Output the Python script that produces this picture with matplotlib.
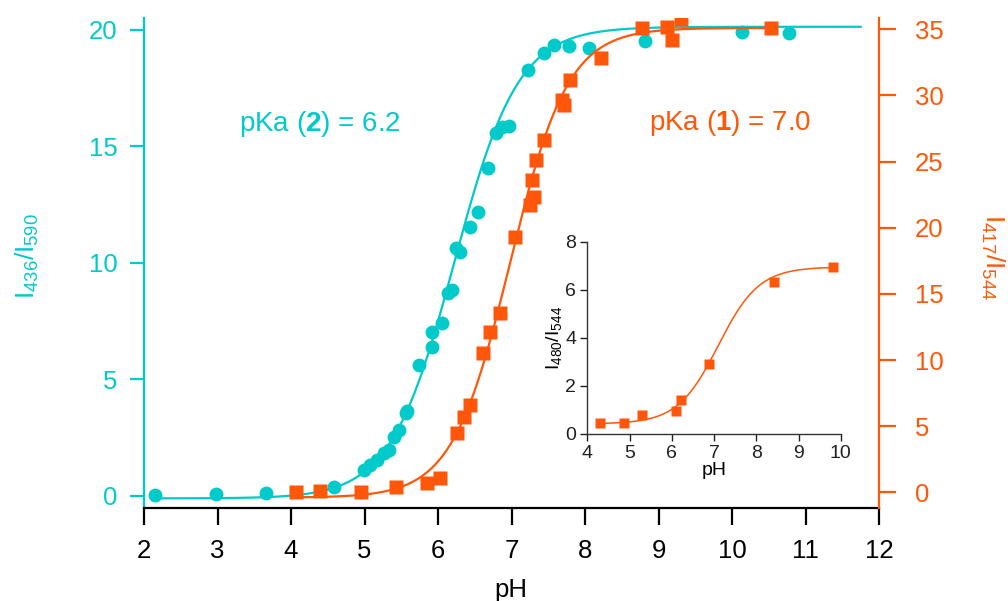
import numpy as np
import matplotlib
matplotlib.use('Agg')
import matplotlib.pyplot as plt

plt.rcParams['font.family'] = ['Liberation Sans', 'DejaVu Sans']
plt.rcParams['mathtext.fontset'] = 'custom'
plt.rcParams['mathtext.rm'] = 'Liberation Sans'
plt.rcParams['mathtext.it'] = 'Liberation Sans:italic'
plt.rcParams['mathtext.bf'] = 'Liberation Sans:bold'
plt.rcParams['mathtext.default'] = 'regular'

CYAN = '#00CACA'
ORANGE = '#FF570A'

# probe 2 (cyan circles, left axis)
ph2 = [2.15, 2.98, 3.66, 4.58, 4.99, 5.08, 5.17, 5.26, 5.33, 5.40, 5.47, 5.56, 5.58,
       5.74, 5.92, 5.92, 6.05, 6.13, 6.19, 6.25, 6.30, 6.44, 6.55, 6.68, 6.79, 6.87,
       6.96, 7.22, 7.44, 7.58, 7.78, 8.05, 8.81, 10.14, 10.78]
ratio2 = [0.03, 0.07, 0.10, 0.38, 1.10, 1.31, 1.53, 1.81, 1.96, 2.53, 2.80, 3.55, 3.65,
          5.60, 6.39, 7.03, 7.39, 8.68, 8.82, 10.61, 10.47, 11.54, 12.19, 14.05, 15.55,
          15.83, 15.86, 18.27, 18.98, 19.34, 19.30, 19.22, 19.53, 19.91, 19.84]

# probe 1 (orange squares, right axis)
ph1 = [4.07, 4.40, 4.95, 5.43, 5.85, 6.03, 6.26, 6.35, 6.44, 6.61, 6.71, 6.84, 7.05,
       7.25, 7.31, 7.28, 7.33, 7.44, 7.69, 7.71, 7.80, 8.22, 8.77, 9.12, 9.18, 9.31, 10.53]
ratio1 = [0.00, 0.10, 0.05, 0.42, 0.68, 1.06, 4.46, 5.71, 6.60, 10.55, 12.14, 13.58,
          19.32, 21.72, 22.35, 23.61, 25.12, 26.63, 29.65, 29.27, 31.16, 32.80, 35.07,
          35.15, 34.19, 35.80, 35.07]

# inset data
ph_in = [4.29, 4.87, 5.30, 6.10, 6.21, 6.87, 8.41, 9.81]
ratio_in = [0.44, 0.44, 0.79, 0.97, 1.42, 2.90, 6.34, 6.96]

# sigmoid fit parameters: (bottom, top, pKa, hill, ph range)
fit2 = (-0.12, 20.12, 6.22, 1.0, 2.15, 11.75)
fit1 = (-0.40, 35.10, 6.98, 1.1, 4.03, 10.55)
fit_in = (0.42, 6.95, 7.10, 0.9, 4.29, 9.81)


def fit_curve(p):
    bot, top, pka, n, x0, x1 = p
    x = np.linspace(x0, x1, 300)
    return x, bot + (top - bot) / (1 + 10 ** (n * (pka - x)))


fig = plt.figure(figsize=(10.08, 6.01), dpi=100)
ax = fig.add_axes([0.1429, 0.1542, 0.7292, 0.8154])
ax2 = ax.twinx()

x, y = fit_curve(fit2)
ax.plot(x, y, color=CYAN, lw=1.6, zorder=2)
ax.plot(ph2, ratio2, 'o', color=CYAN, ms=10, mec='none', zorder=3)

x, y = fit_curve(fit1)
ax2.plot(x, y, color=ORANGE, lw=1.6, zorder=2)
ax2.plot(ph1, ratio1, 's', color=ORANGE, ms=9.5, mec='none', zorder=3)

ax.set_xlim(2, 12)
ax.set_ylim(-0.545, 20.485)
ax2.set_ylim(-1.21, 35.83)
ax.set_xticks(range(2, 13))
ax.set_yticks([0, 5, 10, 15, 20])
ax2.set_yticks(range(0, 36, 5))

for s in ['top', 'right']:
    ax.spines[s].set_visible(False)
for s in ['top', 'left', 'bottom']:
    ax2.spines[s].set_visible(False)
ax.spines['left'].set_color(CYAN)
ax.spines['left'].set_linewidth(1.6)
ax.spines['bottom'].set_color('black')
ax.spines['bottom'].set_linewidth(1.6)
ax2.spines['right'].set_color(ORANGE)
ax2.spines['right'].set_linewidth(1.6)

ax.tick_params(axis='x', direction='out', length=12, width=1.6, labelsize=18.5, pad=10,
               colors='black')
ax.tick_params(axis='y', direction='out', length=10, width=1.6, labelsize=18.5, pad=9,
               colors=CYAN)
ax2.tick_params(axis='y', direction='out', length=12, width=1.6, labelsize=18.5, pad=14,
                colors=ORANGE)

fig.text(511 / 1008, 1 - 590 / 601, 'pH', fontsize=18.5, ha='center', va='center')
fig.text(27 / 1008, 1 - 256 / 601, r'I$_{436}$/I$_{590}$', fontsize=19, color=CYAN,
         rotation=90, ha='center', va='center')
fig.text(993 / 1008, 1 - 257 / 601, r'I$_{417}$/I$_{544}$', fontsize=19, color=ORANGE,
         rotation=270, ha='center', va='center')

ax.text(320 / 1008, 1 - 124 / 601, r'pKa ($\mathbf{2}$) = 6.2', transform=fig.transFigure,
        fontsize=20, color=CYAN, ha='center', va='center')
ax.text(730 / 1008, 1 - 123 / 601, r'pKa ($\mathbf{1}$) = 7.0', transform=fig.transFigure,
        fontsize=20, color=ORANGE, ha='center', va='center')

# inset
axi = fig.add_axes([0.5827, 0.2779, 0.2514, 0.3199])
x, y = fit_curve(fit_in)
axi.plot(x, y, color=ORANGE, lw=1.1)
axi.plot(ph_in, ratio_in, 's', color=ORANGE, ms=7, mec='none')
axi.set_xlim(4, 10)
axi.set_ylim(0, 8)
axi.set_xticks(range(4, 11))
axi.set_yticks([0, 2, 4, 6, 8])
axi.patch.set_alpha(0)
for s in ['top', 'right']:
    axi.spines[s].set_visible(False)
for s in ['left', 'bottom']:
    axi.spines[s].set_color('#333333')
    axi.spines[s].set_linewidth(1.0)
axi.tick_params(direction='out', length=5, width=1.0, labelsize=14, colors='#222222', pad=3)
axi.set_xlabel('pH', fontsize=14, labelpad=0)
axi.set_ylabel(r'I$_{480}$/I$_{544}$', fontsize=14, labelpad=1)

fig.savefig('out.png', dpi=100)
